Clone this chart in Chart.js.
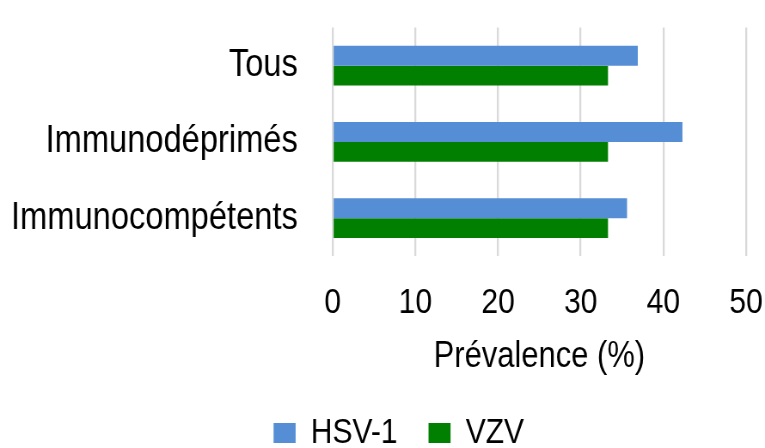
<!DOCTYPE html>
<html>
<head>
<meta charset="utf-8">
<script src="https://cdn.jsdelivr.net/npm/chart.js@4/dist/chart.umd.min.js"></script>
<style>
  html, body { margin: 0; padding: 0; background: #ffffff; overflow: hidden; }
</style>
</head>
<body>
<canvas id="c" width="890" height="448" style="display:block;width:765px;height:448px;"></canvas>
<script>
const categories = ["Tous", "Immunodéprimés", "Immunocompétents"];
const hsv1 = [36.9, 42.3, 35.6];
const vzv = [33.3, 33.3, 33.3];
const seriesNames = ["HSV-1", "VZV"];
const xTicks = [0, 10, 20, 30, 40, 50];
const xTitle = "Prévalence (%)";

const FONT = "'Liberation Sans', Arial, sans-serif";

// shift the bottom legend a little to the right, as in the reference
const legendShift = {
  id: 'legendShift',
  afterLayout(chart) {
    const lg = chart.legend;
    if (lg) { lg.left += 30; lg.right += 30; }
  }
};

new Chart(document.getElementById('c'), {
  type: 'bar',
  data: {
    labels: categories,
    datasets: [
      { label: seriesNames[0], data: hsv1, backgroundColor: '#558ED5', borderWidth: 0 },
      { label: seriesNames[1], data: vzv, backgroundColor: '#007F00', borderWidth: 0 }
    ]
  },
  plugins: [legendShift],
  options: {
    indexAxis: 'y',
    responsive: false,
    animation: false,
    devicePixelRatio: 1,
    categoryPercentage: 0.523,
    barPercentage: 1,
    layout: { padding: { top: 27.5, right: 22, bottom: -12.5, left: 0 } },
    plugins: {
      legend: {
        position: 'bottom',
        labels: {
          font: { family: FONT, size: 35 },
          color: '#000000',
          boxWidth: 25.6,
          boxHeight: 20,
          padding: 36
        }
      },
      tooltip: { enabled: false }
    },
    scales: {
      x: {
        type: 'linear',
        min: xTicks[0],
        max: xTicks[xTicks.length - 1],
        afterBuildTicks: (scale) => { scale.ticks = xTicks.map(v => ({ value: v })); },
        grid: { color: '#D9D9D9', lineWidth: 2.3, drawTicks: true, tickLength: 26, tickColor: 'rgba(0,0,0,0)' },
        border: { display: false },
        ticks: {
          font: { family: FONT, size: 35 },
          color: '#000000',
          padding: 0
        },
        title: {
          display: true,
          text: xTitle,
          font: { family: FONT, size: 36 },
          color: '#000000',
          padding: { top: 11, bottom: 1 }
        }
      },
      y: {
        grid: { display: true, drawOnChartArea: false, drawTicks: true, tickLength: 40.5, tickColor: 'rgba(0,0,0,0)', color: 'rgba(0,0,0,0)' },
        border: { display: false },
        afterFit: (scale) => { scale.width = 387; },
        ticks: {
          font: { family: FONT, size: 38 },
          color: '#000000',
          padding: 0
        }
      }
    }
  }
});
</script>
</body>
</html>
